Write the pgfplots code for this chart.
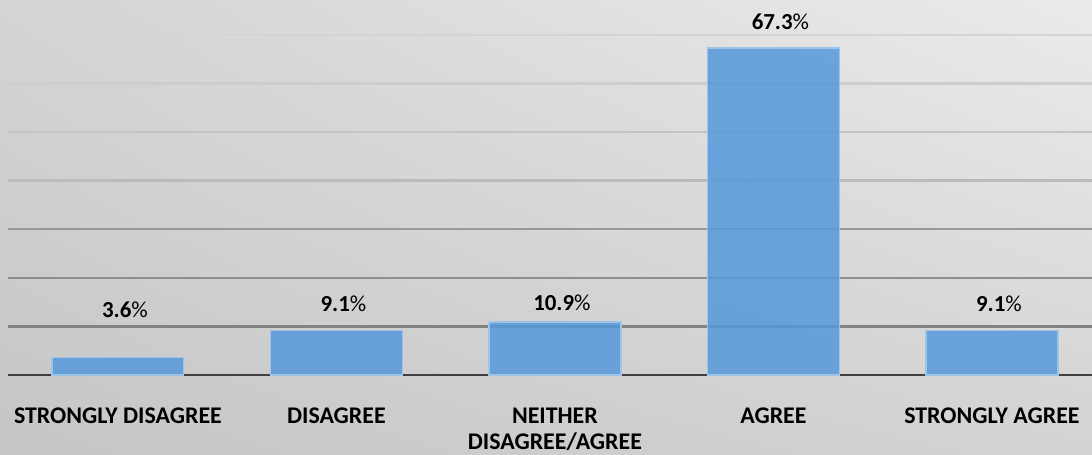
\documentclass[border=0pt]{standalone}
\usepackage{pgfplots}
\pgfplotsset{compat=1.18}
\usepackage{fontspec}
\setmainfont{Carlito}
\usetikzlibrary{backgrounds,shadings}
\definecolor{barfill}{HTML}{5698DC}
\definecolor{barborder}{HTML}{9DC3E6}
\definecolor{baseline}{HTML}{404040}
\definecolor{gA}{HTML}{828282}
\definecolor{gB}{HTML}{8E8E8E}
\definecolor{gC}{HTML}{999999}
\definecolor{gD}{HTML}{BBBBBB}
\definecolor{gE}{HTML}{C4C4C4}
\definecolor{gF}{HTML}{CDCDCD}
\definecolor{gG}{HTML}{D4D4D4}
\definecolor{bgUL}{HTML}{D4D4D4}
\definecolor{bgUR}{HTML}{EBEBEB}
\definecolor{bgLL}{HTML}{C6C6C6}
\definecolor{bgLR}{HTML}{D3D3D3}
\begin{document}
\begin{tikzpicture}
\begin{axis}[
  name=ax,
  width=1084bp, height=375bp, scale only axis,
  xmin=-0.503, xmax=4.458, ymin=0, ymax=77.2,
  axis x line*=bottom, axis y line=none,
  x axis line style={line width=2.5bp, draw=baseline, -},
  xtick={0,1,2,3,4},
  xticklabels={STRONGLY DISAGREE, DISAGREE, {NEITHER\\DISAGREE/AGREE}, AGREE, STRONGLY AGREE},
  xticklabel style={anchor=north, inner sep=0pt, align=center, yshift=-32.5bp,
    font=\fontsize{24}{26}\selectfont\bfseries, text=black},
  major tick length=0pt,
  ytick=\empty,
  clip=false,
]
\addplot[draw=gA, line width=2.4bp, forget plot] coordinates {(-0.503,10) (4.458,10)};
\addplot[draw=gB, line width=2.4bp, forget plot] coordinates {(-0.503,20) (4.458,20)};
\addplot[draw=gC, line width=2.4bp, forget plot] coordinates {(-0.503,30) (4.458,30)};
\addplot[draw=gD, line width=2.4bp, forget plot] coordinates {(-0.503,40) (4.458,40)};
\addplot[draw=gE, line width=2.4bp, forget plot] coordinates {(-0.503,50) (4.458,50)};
\addplot[draw=gF, line width=2.4bp, forget plot] coordinates {(-0.503,60) (4.458,60)};
\addplot[draw=gG, line width=2.4bp, forget plot] coordinates {(-0.503,70) (4.458,70)};
\addplot[ybar, bar width=0.604, fill=barfill, fill opacity=0.85, draw=barborder, line width=1.2bp]
  coordinates {(0,3.6) (1,9.1) (2,10.9) (3,67.3) (4,9.1)};
\addplot[draw=none, mark=none, nodes near coords, point meta=explicit symbolic,
  nodes near coords style={anchor=center, xshift=7bp, inner sep=0pt,
    font=\fontsize{23}{27}\selectfont, text=black}]
  coordinates {(0,13.4) [\textbf{3.6}\%] (1,14.7) [\textbf{9.1}\%] (2,14.9) [\textbf{10.9}\%]
    (3,72.7) [\textbf{67.3}\%] (4,14.6) [\textbf{9.1}\%]};
\end{axis}
\begin{scope}[on background layer]
\shade[upper left=bgUL, upper right=bgUR, lower left=bgLL, lower right=bgLR]
  ([shift={(-8bp,-80bp)}]ax.south west) rectangle (ax.north east);
\end{scope}
\pgfresetboundingbox
\path[use as bounding box] ([shift={(-8bp,-80bp)}]ax.south west) rectangle (ax.north east);
\end{tikzpicture}
\end{document}
